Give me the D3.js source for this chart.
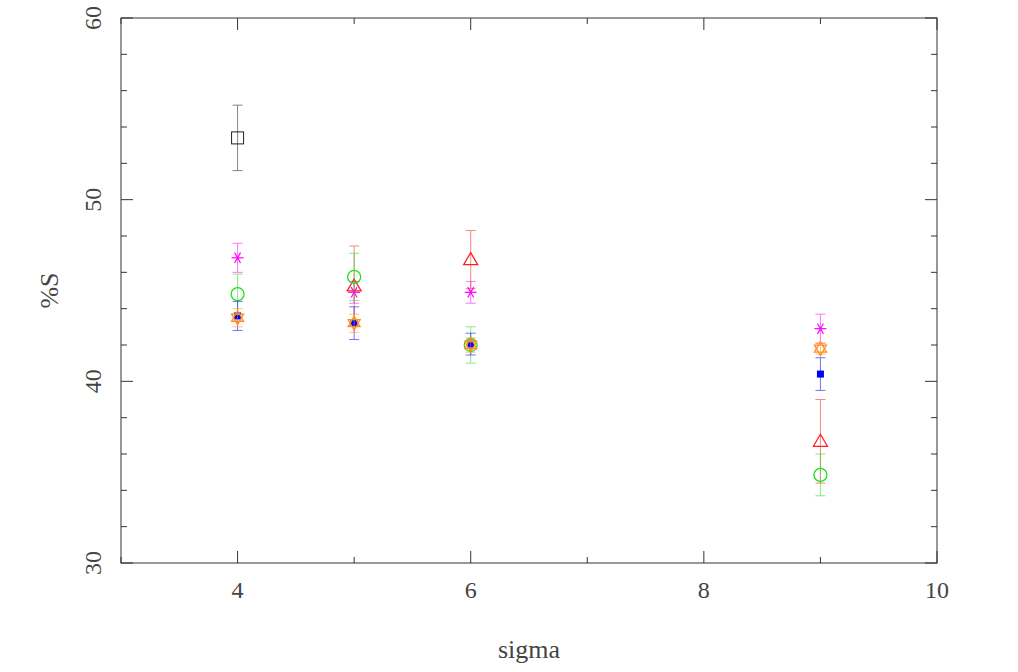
<!DOCTYPE html><html><head><meta charset="utf-8"><script src="https://cdn.jsdelivr.net/npm/d3@7"></script>
<style>body{margin:0;background:#fff}text{font-family:"Liberation Serif",serif;fill:#444}</style></head><body><svg id="c" width="1018" height="672"></svg><script>
const xTicks=[4,6,8,10], yTicks=[30,40,50,60];
const blackSq={x:[4],y:[53.4],e:[1.8]};
const magenta={x:[4,5,6,9],y:[46.8,44.9,44.9,42.9],e:[0.8,0.6,0.6,0.8]};
const green={x:[4,5,6,9],y:[44.8,45.75,42.0,34.85],e:[1.1,1.3,1.0,1.15]};
const red={x:[5,6,9],y:[45.25,46.7,36.7],e:[2.2,1.6,2.3]};
const blue={x:[4,5,6,9],y:[43.6,43.2,42.05,40.4],e:[0.8,0.9,0.6,0.9]};
const orange={x:[4,5,6,9],y:[43.5,43.2,42.0,41.8],e:[0.5,0.5,0.4,0.3]};
const svg=d3.select("#c");
const L=121,R=937,T=18,B=563;
const x=d3.scaleLinear().domain([3,10]).range([L,R]);
const y=d3.scaleLinear().domain([30,60]).range([B,T]);
const g=svg.append("g");
g.append("rect").attr("x",L).attr("y",T).attr("width",R-L).attr("height",B-T).attr("fill","none").attr("stroke","#333");
const xmin=d3.range(3,10.01,1), ymin=d3.range(30,60.01,2);
xmin.forEach(v=>{const big=v%2==0,l=big?12:6;
 g.append("line").attr("x1",x(v)).attr("x2",x(v)).attr("y1",B).attr("y2",B-l).attr("stroke","#333");
 g.append("line").attr("x1",x(v)).attr("x2",x(v)).attr("y1",T).attr("y2",T+l).attr("stroke","#333");});
ymin.forEach(v=>{const big=v%10==0,l=big?12:6;
 g.append("line").attr("y1",y(v)).attr("y2",y(v)).attr("x1",L).attr("x2",L+l).attr("stroke","#333");
 g.append("line").attr("y1",y(v)).attr("y2",y(v)).attr("x1",R).attr("x2",R-l).attr("stroke","#333");});
xTicks.forEach(v=>g.append("text").attr("x",x(v)).attr("y",598).attr("text-anchor","middle").attr("font-size",24).text(v));
yTicks.forEach(v=>g.append("text").attr("transform",`translate(${L-20},${y(v)}) rotate(-90)`).attr("text-anchor","middle").attr("font-size",24).text(v));
g.append("text").attr("x",(L+R)/2).attr("y",658).attr("text-anchor","middle").attr("font-size",26).text("sigma");
g.append("text").attr("transform",`translate(58,${(T+B)/2}) rotate(-90)`).attr("text-anchor","middle").attr("font-size",26).text("%S");
function draw(s,col,shape){
 s.x.forEach((xv,i)=>{const cx=x(xv),cy=y(s.y[i]),t=y(s.y[i]+s.e[i]),b=y(s.y[i]-s.e[i]);
  const eg=g.append("g").attr("stroke",col).attr("opacity",0.55);
  eg.append("line").attr("x1",cx).attr("x2",cx).attr("y1",t).attr("y2",b);
  eg.append("line").attr("x1",cx-5).attr("x2",cx+5).attr("y1",t).attr("y2",t);
  eg.append("line").attr("x1",cx-5).attr("x2",cx+5).attr("y1",b).attr("y2",b);
  const m=g.append("g").attr("transform",`translate(${cx},${cy})`);
  if(shape=="sq")m.append("rect").attr("x",-6).attr("y",-6).attr("width",12).attr("height",12).attr("fill","none").attr("stroke",col);
  if(shape=="fsq")m.append("rect").attr("x",-3.5).attr("y",-3.5).attr("width",7).attr("height",7).attr("fill",col);
  if(shape=="circ")m.append("circle").attr("r",6.5).attr("fill","none").attr("stroke",col).attr("stroke-width",1.3);
  if(shape=="tri")m.append("path").attr("d","M0,-7L7,5L-7,5Z").attr("fill","none").attr("stroke",col).attr("stroke-width",1.3);
  if(shape=="star")m.append("path").attr("d","M0,-7L6,3.5L-6,3.5ZM0,7L6,-3.5L-6,-3.5Z").attr("fill","none").attr("stroke",col).attr("stroke-width",1.3);
  if(shape=="ast"){[0,60,120].forEach(a=>m.append("line").attr("x1",0).attr("x2",0).attr("y1",-6).attr("y2",6).attr("transform",`rotate(${a+90})`).attr("stroke",col).attr("stroke-width",1.2));}
 });}
draw(blackSq,"#222","sq");
draw(magenta,"#ff00ff","ast");
draw(red,"#ff2020","tri");
draw(green,"#20e020","circ");
draw(blue,"#0000ff","fsq");
draw(orange,"#ff9020","star");
</script></body></html>
